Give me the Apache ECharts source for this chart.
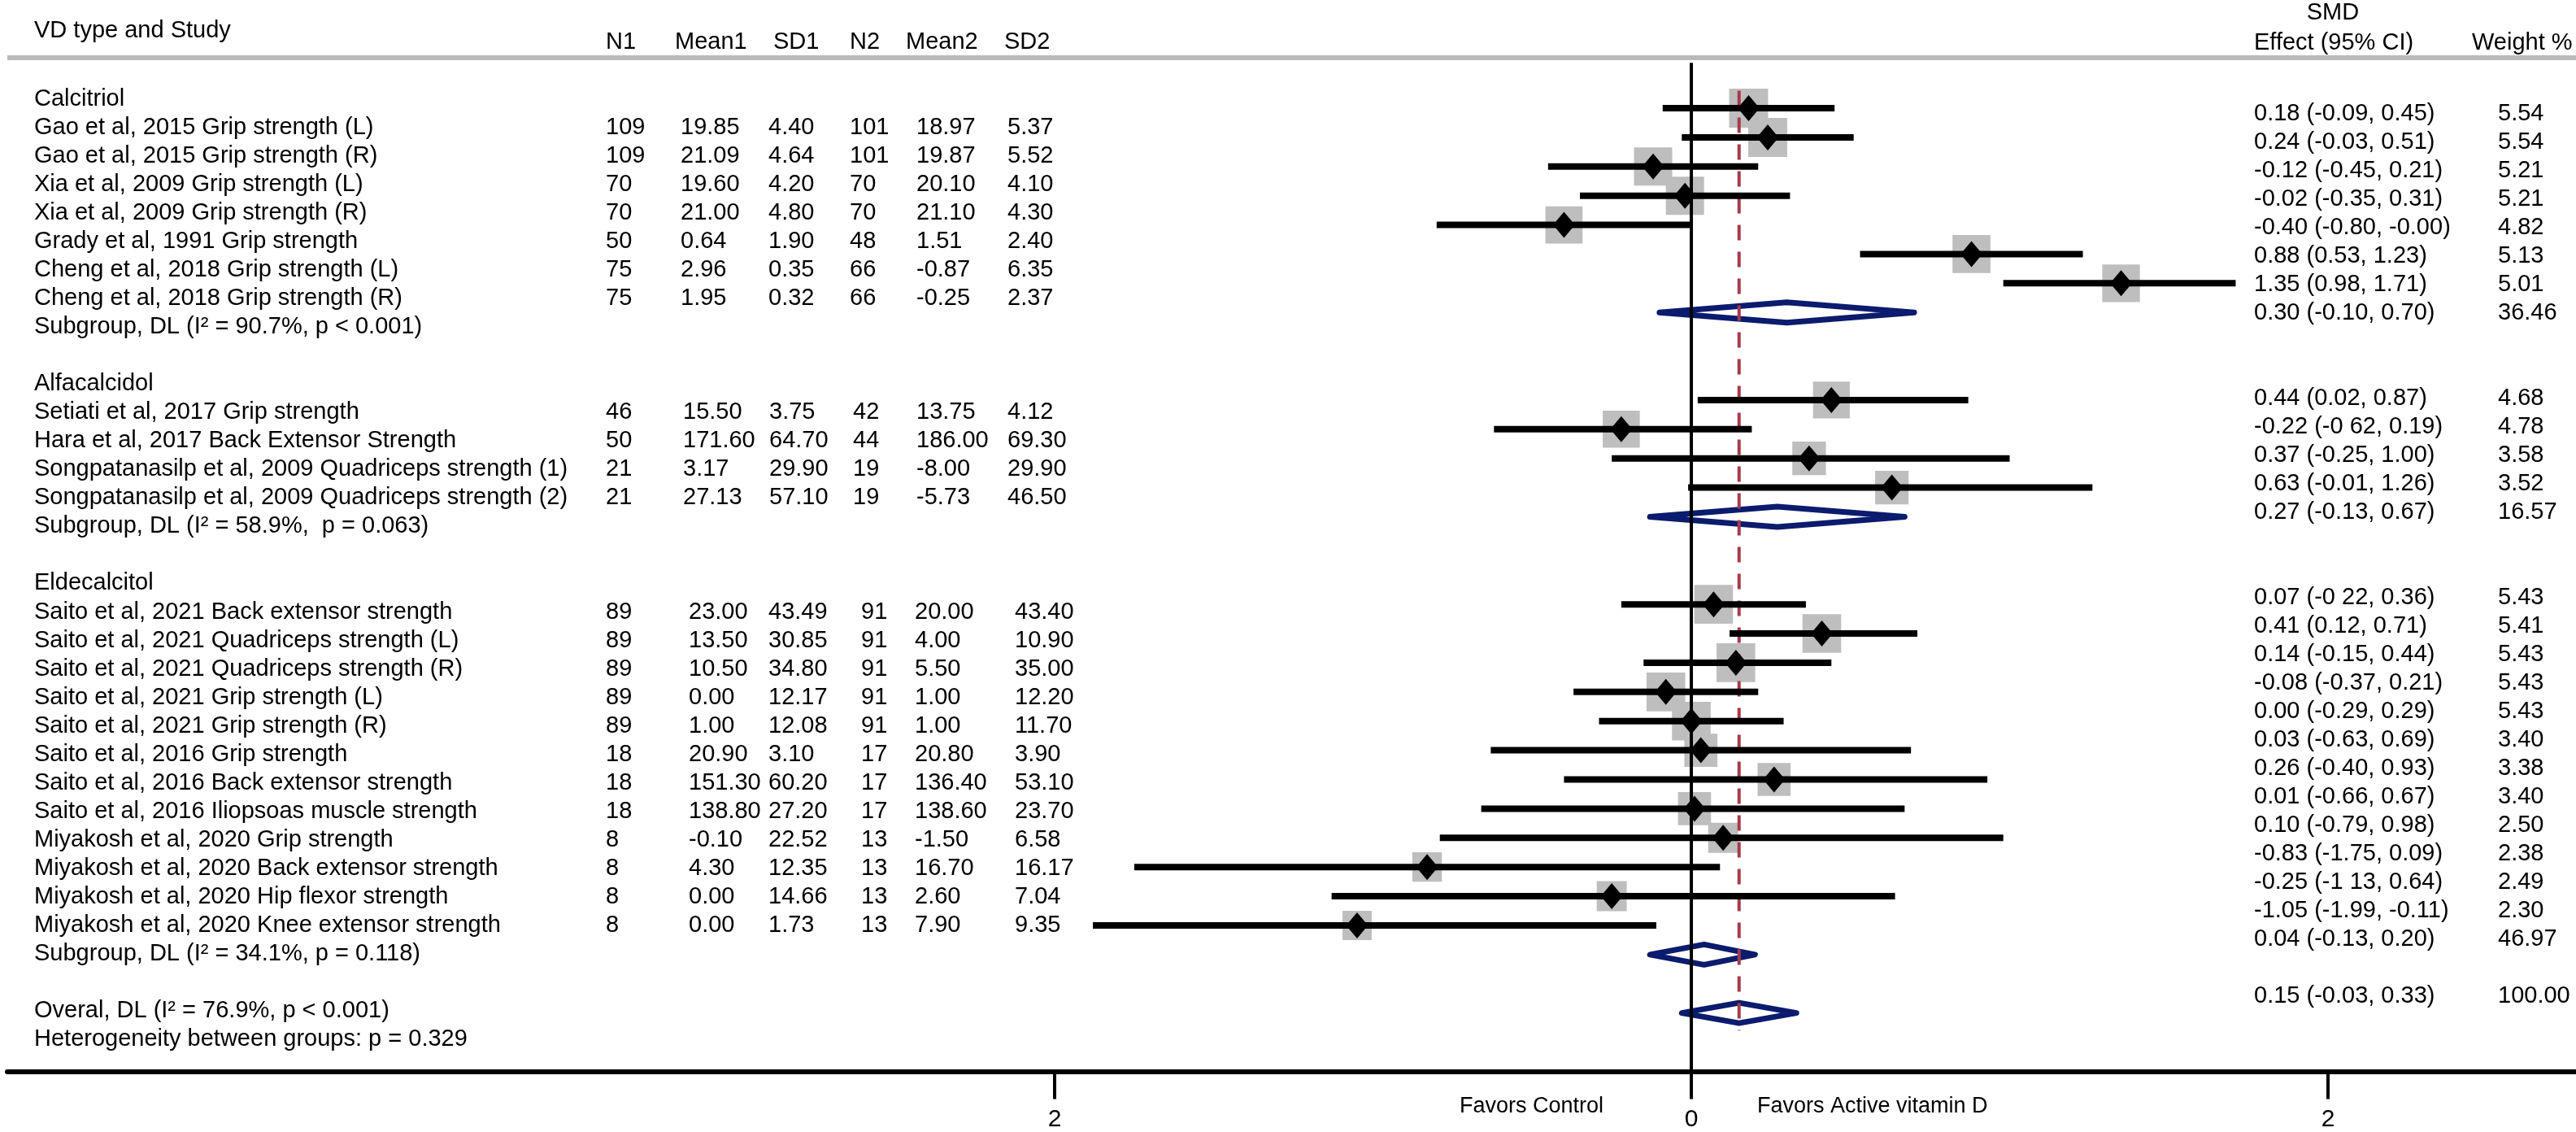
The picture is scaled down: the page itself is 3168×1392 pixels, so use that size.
<!DOCTYPE html>
<html>
<head>
<meta charset="UTF-8">
<title>Forest plot - active vitamin D and muscle strength</title>
<script src="https://cdn.jsdelivr.net/npm/echarts@6/dist/echarts.min.js"></script>
<style>
html, body { margin: 0; padding: 0; background: #fff; }
#main { width: 3168px; height: 1392px; }
</style>
</head>
<body>
<div id="main"></div>
<script type="text/javascript">
// ---- header texts ----
var headLeft = 'VD type and Study';
var headCols = ['N1', 'Mean1', 'SD1', 'N2', 'Mean2', 'SD2'];
var headSmd = 'SMD';
var headEffect = 'Effect (95% CI)';
var headWeight = 'Weight %';
var axisNotes = ['Favors Control', 'Favors Active vitamin D'];
var tickValues = [-2, 0, 2];

// ---- groups ----
var groups = ['Calcitriol', 'Alfacalcidol', 'Eldecalcitol'];
var groupRows = [-1, 9, 16];

// ---- studies ----
var studyNames = [
  'Gao et al, 2015 Grip strength (L)',
  'Gao et al, 2015 Grip strength (R)',
  'Xia et al, 2009 Grip strength (L)',
  'Xia et al, 2009 Grip strength (R)',
  'Grady et al, 1991 Grip strength',
  'Cheng et al, 2018 Grip strength (L)',
  'Cheng et al, 2018 Grip strength (R)',
  'Setiati et al, 2017 Grip strength',
  'Hara et al, 2017 Back Extensor Strength',
  'Songpatanasilp et al, 2009 Quadriceps strength (1)',
  'Songpatanasilp et al, 2009 Quadriceps strength (2)',
  'Saito et al, 2021 Back extensor strength',
  'Saito et al, 2021 Quadriceps strength (L)',
  'Saito et al, 2021 Quadriceps strength (R)',
  'Saito et al, 2021 Grip strength (L)',
  'Saito et al, 2021 Grip strength (R)',
  'Saito et al, 2016 Grip strength',
  'Saito et al, 2016 Back extensor strength',
  'Saito et al, 2016 Iliopsoas muscle strength',
  'Miyakosh et al, 2020 Grip strength',
  'Miyakosh et al, 2020 Back extensor strength',
  'Miyakosh et al, 2020 Hip flexor strength',
  'Miyakosh et al, 2020 Knee extensor strength'
];
var studyRows  = [0, 1, 2, 3, 4, 5, 6, 10, 11, 12, 13, 17, 18, 19, 20, 21, 22, 23, 24, 25, 26, 27, 28];
var studyGroup = [0, 0, 0, 0, 0, 0, 0, 1, 1, 1, 1, 2, 2, 2, 2, 2, 2, 2, 2, 2, 2, 2, 2];
var n1    = ['109', '109', '70', '70', '50', '75', '75', '46', '50', '21', '21', '89', '89', '89', '89', '89', '18', '18', '18', '8', '8', '8', '8'];
var mean1 = ['19.85', '21.09', '19.60', '21.00', '0.64', '2.96', '1.95', '15.50', '171.60', '3.17', '27.13', '23.00', '13.50', '10.50', '0.00', '1.00', '20.90', '151.30', '138.80', '-0.10', '4.30', '0.00', '0.00'];
var sd1   = ['4.40', '4.64', '4.20', '4.80', '1.90', '0.35', '0.32', '3.75', '64.70', '29.90', '57.10', '43.49', '30.85', '34.80', '12.17', '12.08', '3.10', '60.20', '27.20', '22.52', '12.35', '14.66', '1.73'];
var n2    = ['101', '101', '70', '70', '48', '66', '66', '42', '44', '19', '19', '91', '91', '91', '91', '91', '17', '17', '17', '13', '13', '13', '13'];
var mean2 = ['18.97', '19.87', '20.10', '21.10', '1.51', '-0.87', '-0.25', '13.75', '186.00', '-8.00', '-5.73', '20.00', '4.00', '5.50', '1.00', '1.00', '20.80', '136.40', '138.60', '-1.50', '16.70', '2.60', '7.90'];
var sd2   = ['5.37', '5.52', '4.10', '4.30', '2.40', '6.35', '2.37', '4.12', '69.30', '29.90', '46.50', '43.40', '10.90', '35.00', '12.20', '11.70', '3.90', '53.10', '23.70', '6.58', '16.17', '7.04', '9.35'];
var smd    = [0.18, 0.24, -0.12, -0.02, -0.40, 0.88, 1.35, 0.44, -0.22, 0.37, 0.63, 0.07, 0.41, 0.14, -0.08, 0.00, 0.03, 0.26, 0.01, 0.10, -0.83, -0.25, -1.05];
var ciLow  = [-0.09, -0.03, -0.45, -0.35, -0.80, 0.53, 0.98, 0.02, -0.62, -0.25, -0.01, -0.22, 0.12, -0.15, -0.37, -0.29, -0.63, -0.40, -0.66, -0.79, -1.75, -1.13, -1.88];
var ciHigh = [0.45, 0.51, 0.21, 0.31, -0.00, 1.23, 1.71, 0.87, 0.19, 1.00, 1.26, 0.36, 0.71, 0.44, 0.21, 0.29, 0.69, 0.93, 0.67, 0.98, 0.09, 0.64, -0.11];
var smdText = [
  '0.18 (-0.09, 0.45)', '0.24 (-0.03, 0.51)', '-0.12 (-0.45, 0.21)', '-0.02 (-0.35, 0.31)',
  '-0.40 (-0.80, -0.00)', '0.88 (0.53, 1.23)', '1.35 (0.98, 1.71)',
  '0.44 (0.02, 0.87)', '-0.22 (-0 62, 0.19)', '0.37 (-0.25, 1.00)', '0.63 (-0.01, 1.26)',
  '0.07 (-0 22, 0.36)', '0.41 (0.12, 0.71)', '0.14 (-0.15, 0.44)', '-0.08 (-0.37, 0.21)',
  '0.00 (-0.29, 0.29)', '0.03 (-0.63, 0.69)', '0.26 (-0.40, 0.93)', '0.01 (-0.66, 0.67)',
  '0.10 (-0.79, 0.98)', '-0.83 (-1.75, 0.09)', '-0.25 (-1 13, 0.64)', '-1.05 (-1.99, -0.11)'
];
var weights = [5.54, 5.54, 5.21, 5.21, 4.82, 5.13, 5.01, 4.68, 4.78, 3.58, 3.52, 5.43, 5.41, 5.43, 5.43, 5.43, 3.40, 3.38, 3.40, 2.50, 2.38, 2.49, 2.30];

// ---- pooled estimates ----
var poolNames  = ['Subgroup, DL (I\u00b2 = 90.7%, p < 0.001)', 'Subgroup, DL (I\u00b2 = 58.9%,  p = 0.063)', 'Subgroup, DL (I\u00b2 = 34.1%, p = 0.118)', 'Overal, DL (I\u00b2 = 76.9%, p < 0.001)'];
var poolRows   = [7, 14, 29, 31];
var poolSmd    = [0.30, 0.27, 0.04, 0.15];
var poolLow    = [-0.10, -0.13, -0.13, -0.03];
var poolHigh   = [0.70, 0.67, 0.20, 0.33];
var poolText   = ['0.30 (-0.10, 0.70)', '0.27 (-0.13, 0.67)', '0.04 (-0.13, 0.20)', '0.15 (-0.03, 0.33)'];
var poolWeight = ['36.46', '16.57', '46.97', '100.00'];
var footNote = 'Heterogeneity between groups: p = 0.329';
var footRow = 32;

// reference lines: null effect and overall estimate
var nullLine = 0;
var overallLine = 0.15;

// ---- layout ----
var FONT = '"Liberation Sans", Arial, Helvetica, sans-serif';
var FS = 29;
var nameX = 42;
var colX = [
  [745, 837, 945, 1045, 1127, 1239],
  [745, 840, 946, 1049, 1127, 1239],
  [745, 847, 945, 1059, 1125, 1248]
];
var effectX = 2772, weightX = 3072;

function txt(s, x, y, align, size) {
  return { type: 'text', x: x, y: y, silent: true,
    style: { text: s, fill: '#000', font: (size || FS) + 'px ' + FONT, align: align || 'left', verticalAlign: 'middle' } };
}

var myChart = echarts.init(document.getElementById('main'), null, { renderer: 'canvas' });

var option = {
  backgroundColor: '#fff',
  animation: false,
  grid: [
    { left: 9, right: 0, top: 79.17, bottom: 74.6 },   // plot
    { left: 0, right: 0, top: 0, bottom: 0 },          // left table
    { left: 0, right: 0, top: 0, bottom: 0 }           // right table
  ],
  xAxis: [
    {
      type: 'value', gridIndex: 0, min: -5.2899, max: 2.779,
      splitLine: { show: false },
      axisLine: { show: true, onZero: false, lineStyle: { color: '#000', width: 6 } },
      axisTick: { show: true, customValues: tickValues, length: 34, lineStyle: { color: '#000', width: 4 } },
      axisLabel: { show: true, customValues: tickValues, margin: 44, color: '#000', fontSize: 30, fontFamily: FONT,
        formatter: function (v) { return String(Math.abs(v)); } }
    },
    { type: 'value', gridIndex: 1, min: 0, max: 1, show: false },
    { type: 'value', gridIndex: 2, min: 0, max: 1, show: false }
  ],
  yAxis: [
    { type: 'value', gridIndex: 0, inverse: true, min: -1.5, max: 33, show: false },
    { type: 'value', gridIndex: 1, inverse: true, min: -4.4819, max: 35.2555, show: false },
    { type: 'value', gridIndex: 2, inverse: true, min: -4.0, max: 35.7714, show: false }
  ],
  graphic: [
    { type: 'line', shape: { x1: 9, y1: 71, x2: 3168, y2: 71 }, style: { stroke: '#bababa', lineWidth: 6 }, silent: true },
    txt(headLeft, nameX, 38),
    txt(headCols[0], 745, 52), txt(headCols[1], 830, 52), txt(headCols[2], 951, 52),
    txt(headCols[3], 1045, 52), txt(headCols[4], 1114, 52), txt(headCols[5], 1235, 52),
    txt(headSmd, 2869, 16, 'center'),
    txt(headEffect, effectX, 53),
    txt(headWeight, 3040, 53),
    txt(axisNotes[0], 1972, 1361, 'right', 27),
    txt(axisNotes[1], 2161, 1361, 'left', 27)
  ],
  series: [
    { // weight boxes
      type: 'scatter', xAxisIndex: 0, yAxisIndex: 0, z: 1, silent: true,
      symbol: 'rect',
      symbolSize: function (v) { return 14.3 * (1 + Math.sqrt(v[2])); },
      itemStyle: { color: '#bebebe', opacity: 1 },
      data: studyRows.map(function (r, i) { return [smd[i], r, weights[i]]; })
    },
    { // pooled diamonds
      type: 'custom', xAxisIndex: 0, yAxisIndex: 0, z: 2, silent: true,
      data: poolRows.map(function (r, i) { return [poolSmd[i], r, poolLow[i], poolHigh[i]]; }),
      renderItem: function (params, api) {
        var c = api.coord([api.value(0), api.value(1)]);
        var l = api.coord([api.value(2), api.value(1)]);
        var h = api.coord([api.value(3), api.value(1)]);
        var hh = 12.5;
        return { type: 'polygon',
          shape: { points: [[l[0], c[1]], [c[0], c[1] - hh], [h[0], c[1]], [c[0], c[1] + hh]] },
          style: { fill: null, stroke: '#0b1b6d', lineWidth: 7, lineJoin: 'round' } };
      }
    },
    { // null line
      type: 'custom', xAxisIndex: 0, yAxisIndex: 0, z: 3, silent: true,
      data: [[nullLine]],
      renderItem: function (params, api) {
        var p = api.coord([api.value(0), 0]);
        var cs = params.coordSys;
        return { type: 'line', shape: { x1: p[0], y1: cs.y - 2, x2: p[0], y2: cs.y + cs.height },
          style: { stroke: '#000', lineWidth: 4 } };
      }
    },
    { // overall estimate dashed line
      type: 'custom', xAxisIndex: 0, yAxisIndex: 0, z: 3, silent: true,
      data: [[overallLine, -0.6, 31.6]],
      renderItem: function (params, api) {
        var a = api.coord([api.value(0), api.value(1)]);
        var b = api.coord([api.value(0), api.value(2)]);
        return { type: 'line', shape: { x1: a[0], y1: a[1], x2: b[0], y2: b[1] },
          style: { stroke: '#a8394b', lineWidth: 4, lineDash: [19, 14] } };
      }
    },
    { // confidence intervals
      type: 'custom', xAxisIndex: 0, yAxisIndex: 0, z: 4, silent: true,
      data: studyRows.map(function (r, i) { return [ciLow[i], ciHigh[i], r]; }),
      renderItem: function (params, api) {
        var a = api.coord([api.value(0), api.value(2)]);
        var b = api.coord([api.value(1), api.value(2)]);
        return { type: 'line', shape: { x1: a[0], y1: a[1], x2: b[0], y2: b[1] },
          style: { stroke: '#000', lineWidth: 8 } };
      }
    },
    { // point estimates
      type: 'scatter', xAxisIndex: 0, yAxisIndex: 0, z: 5, silent: true,
      symbol: 'diamond', symbolSize: [27, 32],
      itemStyle: { color: '#000', opacity: 1 },
      data: studyRows.map(function (r, i) { return [smd[i], r]; })
    },
    { // left table: groups
      type: 'custom', xAxisIndex: 1, yAxisIndex: 1, silent: true,
      data: groupRows.map(function (r, i) { return [0, r, i]; }),
      renderItem: function (params, api) {
        var y = api.coord([0, api.value(1)])[1];
        return txt(groups[api.value(2)], nameX, y);
      }
    },
    { // left table: studies
      type: 'custom', xAxisIndex: 1, yAxisIndex: 1, silent: true,
      data: studyRows.map(function (r, i) { return [0, r, i]; }),
      renderItem: function (params, api) {
        var i = api.value(2);
        var y = api.coord([0, api.value(1)])[1];
        var cx = colX[studyGroup[i]];
        return { type: 'group', children: [
          txt(studyNames[i], nameX, y),
          txt(n1[i], cx[0], y), txt(mean1[i], cx[1], y), txt(sd1[i], cx[2], y),
          txt(n2[i], cx[3], y), txt(mean2[i], cx[4], y), txt(sd2[i], cx[5], y)
        ] };
      }
    },
    { // left table: pooled + footnote
      type: 'custom', xAxisIndex: 1, yAxisIndex: 1, silent: true,
      data: poolRows.concat([footRow]).map(function (r, i) { return [0, r, i]; }),
      renderItem: function (params, api) {
        var i = api.value(2);
        var y = api.coord([0, api.value(1)])[1];
        return txt(i < poolNames.length ? poolNames[i] : footNote, nameX, y);
      }
    },
    { // right table: studies
      type: 'custom', xAxisIndex: 2, yAxisIndex: 2, silent: true,
      data: studyRows.map(function (r, i) { return [0, r, i]; }),
      renderItem: function (params, api) {
        var i = api.value(2);
        var y = api.coord([0, api.value(1)])[1];
        return { type: 'group', children: [
          txt(smdText[i], effectX, y),
          txt(weights[i].toFixed(2), weightX, y)
        ] };
      }
    },
    { // right table: pooled
      type: 'custom', xAxisIndex: 2, yAxisIndex: 2, silent: true,
      data: poolRows.map(function (r, i) { return [0, r, i]; }),
      renderItem: function (params, api) {
        var i = api.value(2);
        var y = api.coord([0, api.value(1)])[1];
        return { type: 'group', children: [
          txt(poolText[i], effectX, y),
          txt(poolWeight[i], weightX, y)
        ] };
      }
    }
  ]
};

myChart.setOption(option);
</script>
</body>
</html>
